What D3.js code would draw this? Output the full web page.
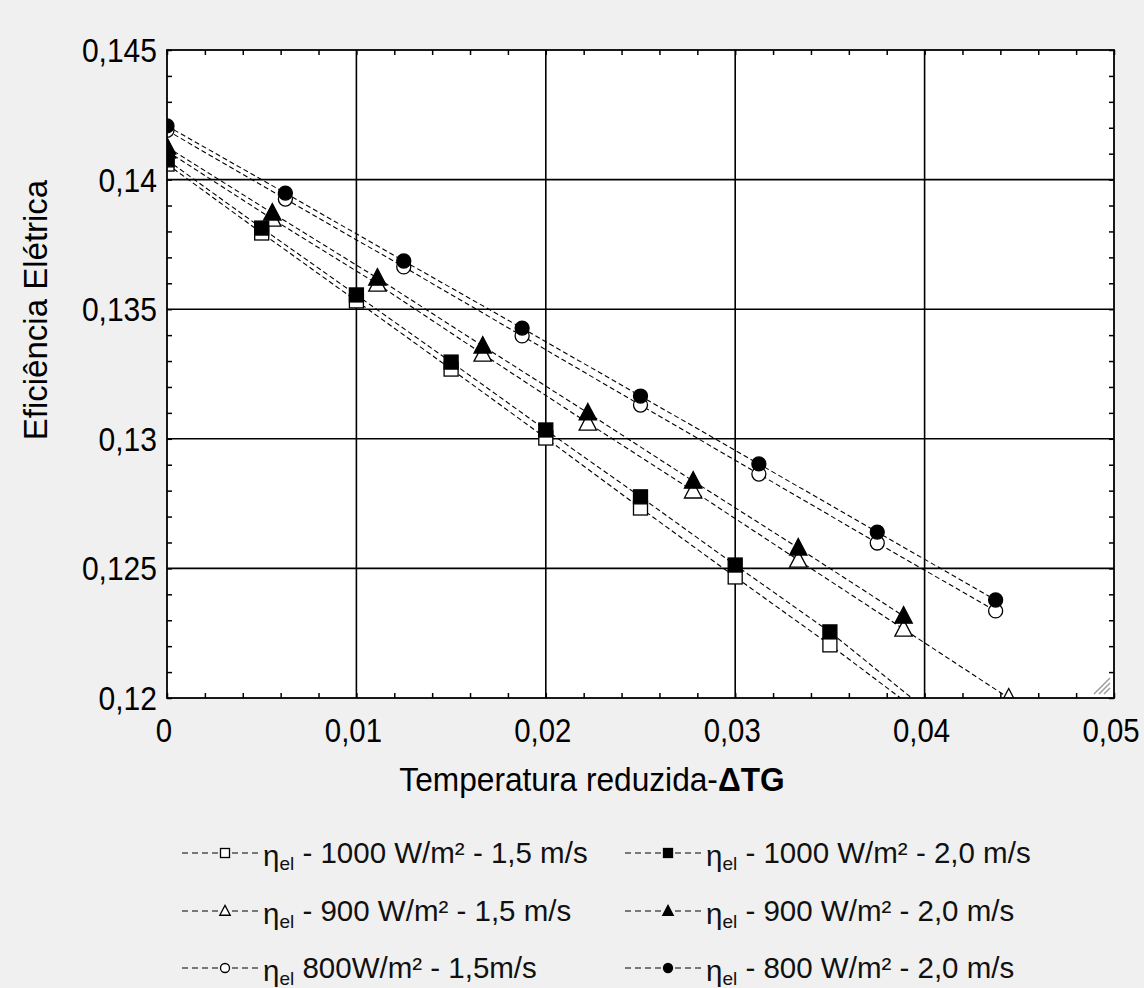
<!DOCTYPE html>
<html>
<head>
<meta charset="utf-8">
<script src="https://cdn.jsdelivr.net/npm/d3@7"></script>
<style>
  body { margin: 0; background: #f0f0f0; }
  svg { display: block; }
  .sans { font-family: "Liberation Sans", Arial, sans-serif; }
</style>
</head>
<body>
<svg width="1144" height="988"></svg>
<script>
// x values per series
var xSq = [0, 0.005, 0.01, 0.015, 0.02, 0.025, 0.03, 0.035, 0.04];
var xTri = [0, 0.00556, 0.01111, 0.01667, 0.02222, 0.02778, 0.03333, 0.03889, 0.04444];
var xCirc = [0, 0.00625, 0.0125, 0.01875, 0.025, 0.03125, 0.0375, 0.04375];

// eficiencia eletrica
var sq1000_15 = [0.1406, 0.13794, 0.13532, 0.13269, 0.13003, 0.12733, 0.12467, 0.12205, 0.1193];
var sq1000_20 = [0.14076, 0.13813, 0.13555, 0.13296, 0.13034, 0.12776, 0.12513, 0.12255, 0.1196];
var tri900_15 = [0.1411, 0.13848, 0.13597, 0.13327, 0.13061, 0.12799, 0.12532, 0.12266, 0.1200];
var tri900_20 = [0.14126, 0.13871, 0.13620, 0.13358, 0.13100, 0.12837, 0.12579, 0.12316];
var circ800_15 = [0.1419, 0.13925, 0.13663, 0.13397, 0.13130, 0.12864, 0.12598, 0.12336];
var circ800_20 = [0.14207, 0.13948, 0.13686, 0.13427, 0.13165, 0.12903, 0.12640, 0.12378];

var xTicks = [0, 0.01, 0.02, 0.03, 0.04, 0.05];
var yTicks = [0.12, 0.125, 0.13, 0.135, 0.14, 0.145];

var series = [
  { name: "- 1000 W/m\u00b2 - 1,5 m/s", xs: xSq, ys: sq1000_15, shape: "square", filled: false },
  { name: "- 1000 W/m\u00b2 - 2,0 m/s", xs: xSq, ys: sq1000_20, shape: "square", filled: true },
  { name: "- 900 W/m\u00b2 - 1,5 m/s", xs: xTri, ys: tri900_15, shape: "triangle", filled: false },
  { name: "- 900 W/m\u00b2 - 2,0 m/s", xs: xTri, ys: tri900_20, shape: "triangle", filled: true },
  { name: "800W/m\u00b2 - 1,5m/s", xs: xCirc, ys: circ800_15, shape: "circle", filled: false },
  { name: "- 800 W/m\u00b2 - 2,0 m/s", xs: xCirc, ys: circ800_20, shape: "circle", filled: true }
];

(function() {
  var svg = d3.select("svg");
  var left = 167, right = 1114, pTop = 50, bottom = 698;

  var x = d3.scaleLinear().domain([0, 0.05]).range([left, right]);
  var y = d3.scaleLinear().domain([0.12, 0.145]).range([bottom, pTop]);
  var fmt = function(d) { return String(+d.toFixed(3)).replace(".", ","); };

  svg.append("rect").attr("x", left).attr("y", pTop)
    .attr("width", right - left).attr("height", bottom - pTop).attr("fill", "#fff");

  svg.append("clipPath").attr("id", "plot")
    .append("rect").attr("x", left).attr("y", pTop)
    .attr("width", right - left).attr("height", bottom - pTop);

  // grid
  var grid = svg.append("g").attr("stroke", "#000").attr("stroke-width", 1.6);
  grid.selectAll(".gx").data(xTicks.slice(1, -1)).enter().append("line")
    .attr("x1", x).attr("x2", x).attr("y1", pTop).attr("y2", bottom);
  grid.selectAll(".gy").data(yTicks.slice(1, -1)).enter().append("line")
    .attr("y1", y).attr("y2", y).attr("x1", left).attr("x2", right);

  // inward ticks on all sides
  var minorX = d3.range(0, 0.0501, 0.002);
  var minorY = d3.range(0.12, 0.1451, 0.001);
  var tk = 5;
  function clean(g) { g.select(".domain").remove(); g.selectAll("line").attr("stroke-width", 1.5); }
  svg.append("g").attr("transform", "translate(0," + bottom + ")")
    .call(d3.axisTop(x).tickValues(minorX).tickSize(tk).tickFormat("")).call(clean);
  svg.append("g").attr("transform", "translate(0," + pTop + ")")
    .call(d3.axisBottom(x).tickValues(minorX).tickSize(tk).tickFormat("")).call(clean);
  svg.append("g").attr("transform", "translate(" + left + ",0)")
    .call(d3.axisRight(y).tickValues(minorY).tickSize(tk).tickFormat("")).call(clean);
  svg.append("g").attr("transform", "translate(" + right + ",0)")
    .call(d3.axisLeft(y).tickValues(minorY).tickSize(tk).tickFormat("")).call(clean);

  // tick labels (slightly condensed, as in the reference)
  svg.append("g").attr("class", "sans").attr("font-size", 33).attr("fill", "#000")
    .selectAll("text").data(xTicks).enter().append("text")
    .attr("transform", function(d) { return "translate(" + (x(d) - 3) + ",742) scale(0.89,1)"; })
    .attr("text-anchor", "middle")
    .text(fmt);
  svg.append("g").attr("class", "sans").attr("font-size", 33).attr("fill", "#000")
    .selectAll("text").data(yTicks).enter().append("text")
    .attr("transform", function(d) { return "translate(157," + (y(d) + 12) + ") scale(0.91,1)"; })
    .attr("text-anchor", "end")
    .text(fmt);

  // axis titles
  svg.append("text").attr("class", "sans").attr("font-size", 33)
    .attr("transform", "translate(47,310) rotate(-90)").attr("text-anchor", "middle")
    .text("Efici\u00eancia El\u00e9trica");
  var xt = svg.append("text").attr("class", "sans").attr("font-size", 33)
    .attr("transform", "translate(592,791) scale(0.96,1)").attr("text-anchor", "middle");
  xt.append("tspan").text("Temperatura reduzida-");
  xt.append("tspan").attr("font-weight", "bold").text("\u0394TG");

  // markers
  function drawMarker(g, shape, filled, size) {
    var fill = filled ? "#000" : "#fff";
    if (shape === "square") {
      g.append("rect").attr("x", -size / 2).attr("y", -size / 2)
        .attr("width", size).attr("height", size)
        .attr("fill", fill).attr("stroke", "#000").attr("stroke-width", 1.3);
    } else if (shape === "triangle") {
      var h = size * 1.05;
      g.append("path").attr("d", "M0," + (-h * 0.6) + "L" + (size * 0.58) + "," + (h * 0.45) + "L" + (-size * 0.58) + "," + (h * 0.45) + "Z")
        .attr("fill", fill).attr("stroke", "#000").attr("stroke-width", 1.3);
    } else {
      g.append("circle").attr("r", size / 2)
        .attr("fill", fill).attr("stroke", "#000").attr("stroke-width", 1.3);
    }
  }

  var line = d3.line().x(function(d) { return x(d[0]); }).y(function(d) { return y(d[1]); });
  var plot = svg.append("g").attr("clip-path", "url(#plot)");

  // open series first, filled on top
  var order = [0, 2, 4, 1, 3, 5];
  function points(s) {
    return s.ys.map(function(v, j) { return [s.xs[j], v]; });
  }
  order.forEach(function(i) {
    plot.append("path").datum(points(series[i])).attr("d", line)
      .attr("fill", "none").attr("stroke", "#000").attr("stroke-width", 1.1)
      .attr("stroke-dasharray", "5,3");
  });
  order.forEach(function(i) {
    var s = series[i];
    points(s).forEach(function(p) {
      var g = plot.append("g").attr("transform", "translate(" + x(p[0]) + "," + y(p[1]) + ")");
      drawMarker(g, s.shape, s.filled, s.shape === "triangle" ? 15 : 14);
    });
  });

  // frame
  svg.append("rect").attr("x", left).attr("y", pTop)
    .attr("width", right - left).attr("height", bottom - pTop)
    .attr("fill", "none").attr("stroke", "#000").attr("stroke-width", 1.8);

  // resize grip
  var grip = svg.append("g").attr("stroke", "#999").attr("stroke-width", 1.5);
  [0, 5, 10].forEach(function(o) {
    grip.append("line").attr("x1", right - 4 - 6 - o).attr("y1", bottom - 4)
      .attr("x2", right - 4).attr("y2", bottom - 4 - 6 - o);
  });

  // legend
  var legRows = [853, 911, 968];
  var legCols = [182, 625];
  series.forEach(function(s, i) {
    var cx = legCols[i % 2], cy = legRows[Math.floor(i / 2)];
    var g = svg.append("g");
    g.append("line").attr("x1", cx).attr("x2", cx + 78).attr("y1", cy).attr("y2", cy)
      .attr("stroke", "#000").attr("stroke-width", 1.2).attr("stroke-dasharray", "6,4");
    var m = g.append("g").attr("transform", "translate(" + (cx + 43) + "," + cy + ")");
    drawMarker(m, s.shape, s.filled, 9);
    var t = g.append("text").attr("class", "sans").attr("font-size", 29.5).attr("fill", "#111")
      .attr("x", cx + 81).attr("y", cy + 10);
    t.append("tspan").attr("dy", 3).text("\u03b7");
    t.append("tspan").attr("font-size", 19).attr("dy", 4).text("el");
    t.append("tspan").attr("dy", -7).text(" " + s.name);
  });
})();
</script>
</body>
</html>
